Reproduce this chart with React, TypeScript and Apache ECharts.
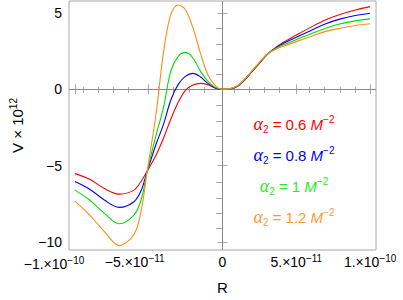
import React, { useEffect, useRef } from 'react';
import * as echarts from 'echarts';

// R in units of 1e-11
const R = [-10, -9, -8, -7, -6, -5.5, -5.1, -4.5, -4, -3.5, -3, -2.5, -2, -1.5, -1, -0.5, 0, 0.5, 1, 1.5, 2, 2.5, 3, 3.5, 4, 5, 6, 7, 8, 9, 10];
const vRed = [-5.52, -5.89, -6.5, -6.86, -6.6, -6.0, -5.35, -4.3, -3.2, -1.95, -0.85, -0.05, 0.28, 0.39, 0.3, 0.08, 0, 0.03, 0.18, 0.6, 1.16, 1.7, 2.25, 2.66, 3.0, 3.55, 4.07, 4.55, 4.91, 5.19, 5.41];
const vBlue = [-6.04, -6.54, -7.25, -7.73, -7.36, -6.6, -5.35, -3.6, -2.3, -0.7, 0.32, 0.86, 1.04, 0.82, 0.39, 0.09, 0, 0.035, 0.2, 0.62, 1.18, 1.72, 2.26, 2.63, 2.93, 3.4, 3.85, 4.29, 4.61, 4.83, 4.98];
const vGreen = [-6.6, -7.25, -8.12, -8.8, -8.23, -7.2, -5.35, -3.0, -1.2, 1.2, 2.16, 2.42, 2.05, 1.19, 0.54, 0.13, 0, 0.04, 0.22, 0.64, 1.2, 1.74, 2.27, 2.6, 2.86, 3.25, 3.64, 4.0, 4.29, 4.48, 4.61];
const vOrange = [-7.32, -8.23, -9.31, -10.22, -9.5, -7.9, -5.35, -1.6, 2.4, 4.9, 5.52, 5.19, 4.0, 2.38, 0.97, 0.26, 0, 0.045, 0.24, 0.66, 1.22, 1.76, 2.29, 2.57, 2.78, 3.12, 3.46, 3.79, 4.0, 4.18, 4.29];

const alphaValues = ['0.6', '0.8', '1', '1.2'];
const seriesColors = ['#ff0000', '#0000ff', '#00e000', '#ff8c1a'];
const textColors = ['#ff0000', '#0000ff', '#22ee22', '#ff9933'];

const xMajor = [-10, -5, 0, 5, 10];
const xMant = ['−1.', '−5.', '0', '5.', '1.'];
const xExp = ['−10', '−11', '', '−11', '−10'];
const xMinor = [-9, -8, -7, -6, -4, -3, -2, -1, 1, 2, 3, 4, 6, 7, 8, 9];
const yMajor = [-10, -5, 0, 5];
const yMinor = [-9, -8, -7, -6, -4, -3, -2, -1, 1, 2, 3, 4];

const FRAME = '#a8a8a8';
const FONT = 'Liberation Sans';

export default function App() {
  const ref = useRef<HTMLDivElement>(null);
  useEffect(() => {
    if (!ref.current) return;
    const chart = echarts.init(ref.current, undefined, { renderer: 'svg' });
    const XMIN = -10.4, XMAX = 10.4, YMIN = -10.52, YMAX = 5.78;
    const gridPos = { left: 62, right: 27, top: 1, bottom: 48 };
    const tick = (vals: number[], len: number) => ({
      show: true, inside: true, length: len, customValues: vals,
      lineStyle: { color: FRAME, width: 1 },
    });
    const xb = (grid: number, pos: string) => ({
      type: 'value', gridIndex: grid, position: pos, min: XMIN, max: XMAX,
      splitLine: { show: false }, axisLine: { show: false },
    });
    const yb = (grid: number, pos: string) => ({
      type: 'value', gridIndex: grid, position: pos, min: YMIN, max: YMAX,
      splitLine: { show: false }, axisLine: { show: false },
    });
    const xLabel = (values: number[]) => ({
      customValues: values, margin: 3, color: '#000',
      showMinLabel: true, showMaxLabel: true, hideOverlap: false,
      formatter: (v: number) => {
        const i = xMajor.indexOf(v);
        if (i < 0) return '';
        if (!xExp[i]) return `{n|${xMant[i]}}`;
        const s = `{n|${xMant[i]}×10}{s|${xExp[i]}}`;
        return v < 0 ? s + '{p| }' : s;
      },
      rich: {
        n: { fontFamily: FONT, fontSize: 14, color: '#000', lineHeight: 18 },
        s: { fontFamily: FONT, fontSize: 10, color: '#000', verticalAlign: 'top' },
        p: { width: 28, fontSize: 9 },
      },
    });
    const names = ['Red', 'Blue', 'Green', 'Orange'];
    const vals = [vRed, vBlue, vGreen, vOrange];
    const series: any[] = vals.map((v, k) => ({
      name: names[k], type: 'line', xAxisIndex: 0, yAxisIndex: 0,
      data: R.map((r, i) => [r, v[i]]), showSymbol: false, smooth: 0.35,
      lineStyle: { color: seriesColors[k], width: 1.1 }, itemStyle: { color: seriesColors[k] },
      z: 3, silent: true,
    }));
    series.push({
      type: 'line', xAxisIndex: 0, yAxisIndex: 0, data: [], z: 1, silent: true,
      markLine: {
        silent: true, symbol: ['none', 'none'], z: 1, label: { show: false },
        lineStyle: { color: '#888', width: 1, type: 'solid' },
        data: [{ xAxis: 0 }, { yAxis: 0 }],
      },
    });
    const graphic = alphaValues.map((a, i) => ({
      type: 'text', x: 294, y: 124 + 31 * i, z: 10,
      style: {
        text: `{a|α}{sub|2}{t| = ${a} }{m|M}{sup|−2}`,
        align: 'center', verticalAlign: 'middle', fill: textColors[i],
        rich: {
          a: { fontFamily: 'Liberation Serif', fontStyle: 'italic', fontSize: 18, fill: textColors[i], lineHeight: 20 },
          sub: { fontFamily: FONT, fontSize: 10, fill: textColors[i], verticalAlign: 'bottom' },
          t: { fontFamily: FONT, fontSize: 15, fill: textColors[i], lineHeight: 20 },
          m: { fontFamily: FONT, fontStyle: 'italic', fontSize: 15, fill: textColors[i], lineHeight: 20 },
          sup: { fontFamily: FONT, fontSize: 10, fill: textColors[i], verticalAlign: 'top' },
        },
      },
    }));
    chart.setOption({
      animation: false,
      backgroundColor: '#fff',
      grid: [
        { ...gridPos, show: true, borderColor: FRAME, borderWidth: 1, backgroundColor: 'transparent' },
        { ...gridPos, show: false },
      ],
      xAxis: [
        {
          ...xb(0, 'bottom'), axisTick: tick(xMajor, 5),
          axisLabel: xLabel(xMajor.slice(1)),
          name: 'R', nameLocation: 'middle', nameGap: 30,
          nameTextStyle: { fontFamily: FONT, fontSize: 15, color: '#000' },
        },
        { ...xb(0, 'top'), axisTick: tick(xMajor, 5), axisLabel: { show: false } },
        { ...xb(1, 'bottom'), axisTick: tick(xMinor, 3), axisLabel: xLabel(xMajor.slice(0, 1)) },
        { ...xb(1, 'top'), axisTick: tick(xMinor, 3), axisLabel: { show: false } },
      ],
      yAxis: [
        {
          ...yb(0, 'left'), axisTick: tick(yMajor, 5),
          axisLabel: {
            customValues: yMajor, margin: 7, color: '#000', fontFamily: FONT, fontSize: 14,
            showMinLabel: true, showMaxLabel: true,
            formatter: (v: number) => (v < 0 ? '−' + String(-v) : String(v)),
          },
          name: '{n|V × 10}{s|12}', nameLocation: 'middle', nameGap: 42,
          nameTextStyle: {
            color: '#000',
            rich: {
              n: { fontFamily: FONT, fontSize: 15, color: '#000', lineHeight: 19 },
              s: { fontFamily: FONT, fontSize: 10, color: '#000', verticalAlign: 'top' },
            },
          },
        },
        { ...yb(0, 'right'), axisTick: tick(yMajor, 5), axisLabel: { show: false } },
        { ...yb(1, 'left'), axisTick: tick(yMinor, 3), axisLabel: { show: false } },
        { ...yb(1, 'right'), axisTick: tick(yMinor, 3), axisLabel: { show: false } },
      ],
      series,
      graphic,
    });
    return () => chart.dispose();
  }, []);
  return <div ref={ref} style={{ position: 'fixed', left: 0, top: 0, width: 403, height: 300, background: '#fff' }} />;
}
